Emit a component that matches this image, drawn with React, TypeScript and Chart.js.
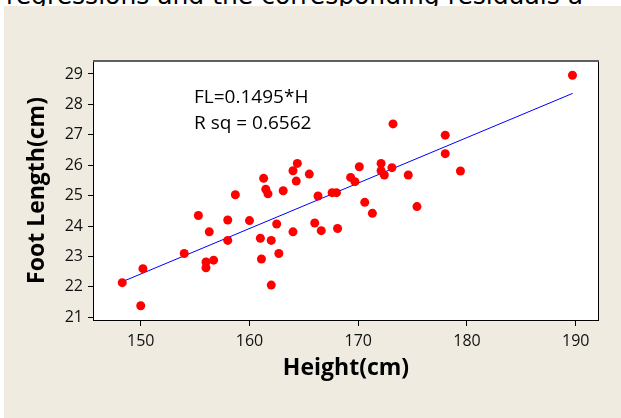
import React, { useEffect, useRef } from "react";
import { Chart, registerables } from "chart.js";

Chart.register(...registerables);

const heights = [
  148.3, 150.0, 150.2, 154.0, 155.3, 156.0, 156.0, 156.3, 156.7, 158.0,
  158.0, 158.7, 160.0, 161.0, 161.1, 161.3, 161.5, 161.7, 162.0, 162.0,
  162.5, 162.7, 163.1, 164.0, 164.0, 164.3, 164.4, 165.5, 166.0, 166.3,
  166.6, 167.6, 168.0, 168.1, 169.3, 169.7, 170.1, 170.6, 171.3, 172.1,
  172.1, 172.4, 173.2, 173.1, 174.6, 175.4, 178.0, 178.0, 179.4, 189.7,
];
const footLengths = [
  22.14, 21.38, 22.6, 23.1, 24.35, 22.82, 22.63, 23.81, 22.88, 24.2,
  23.53, 25.03, 24.18, 23.6, 22.92, 25.57, 25.21, 25.06, 23.53, 22.06,
  24.07, 23.1, 25.16, 23.81, 25.82, 25.48, 26.06, 25.71, 24.1, 24.99,
  23.85, 25.1, 25.1, 23.92, 25.6, 25.46, 25.95, 24.78, 24.42, 26.06,
  25.82, 25.68, 27.36, 25.92, 25.68, 24.64, 26.99, 26.38, 25.81, 28.96,
];
const xTickValues = [150, 160, 170, 180, 190];
const yTickValues = [21, 22, 23, 24, 25, 26, 27, 28, 29];
const xRange = [145.61, 192.14];
const yRange = [20.88, 29.46];
const slope = 0.1495;
const fitRange = [148.25, 189.72];
const annotationLines = ["FL=0.1495*H", "R sq = 0.6562"];
const annotationX = 154.9;
const annotationY = [28.24, 27.37];
const xTitle = "Height(cm)";
const yTitle = "Foot Length(cm)";
const headerText = "regressions and the corresponding residuals a";

export default function App() {
  const ref = useRef<HTMLCanvasElement>(null);

  useEffect(() => {
    const canvas = ref.current;
    if (!canvas) return;

    const boxPlugin = {
      id: "plotBox",
      beforeDraw(chart: any) {
        const { ctx, chartArea: a } = chart;
        ctx.save();
        ctx.fillStyle = "#ffffff";
        ctx.fillRect(a.left, a.top, a.right - a.left, a.bottom - a.top);
        ctx.restore();
      },
      afterDraw(chart: any) {
        const { ctx, chartArea: a, scales } = chart;
        ctx.save();
        ctx.strokeStyle = "#000000";
        ctx.lineWidth = 1;
        ctx.strokeRect(a.left + 0.5, a.top + 0.5, a.right - a.left - 1, a.bottom - a.top - 1);
        ctx.fillStyle = "#5f5f5f";
        ctx.fillRect(a.left, a.top, a.right - a.left, 2);
        ctx.fillStyle = "#000000";
        ctx.font = '19px "Open Sans"';
        ctx.textAlign = "left";
        ctx.textBaseline = "middle";
        annotationLines.forEach((t, i) => {
          ctx.fillText(t, scales.x.getPixelForValue(annotationX), scales.y.getPixelForValue(annotationY[i]));
        });
        ctx.restore();
      },
    };

    const points = heights.map((h, i) => ({ x: h, y: footLengths[i] }));
    const fitLine = fitRange.map((h) => ({ x: h, y: slope * h }));

    const chart = new Chart(canvas, {
      type: "scatter",
      data: {
        datasets: [
          {
            data: points,
            backgroundColor: "#ff0000",
            borderWidth: 0,
            pointRadius: 4.5,
            pointHoverRadius: 4.5,
          },
          {
            data: fitLine,
            showLine: true,
            borderColor: "#0000ff",
            borderWidth: 1,
            pointRadius: 0,
            fill: false,
          },
        ],
      },
      options: {
        responsive: false,
        animation: false,
        devicePixelRatio: 1,
        layout: { padding: { left: 0, top: 54, right: 22, bottom: 0 } },
        plugins: { legend: { display: false }, tooltip: { enabled: false }, title: { display: false } },
        scales: {
          x: {
            type: "linear",
            min: xRange[0],
            max: xRange[1],
            afterBuildTicks: (s: any) => {
              s.ticks = xTickValues.map((v) => ({ value: v }));
            },
            afterFit: (s: any) => {
              s.height = 97;
            },
            grid: { drawOnChartArea: false, drawTicks: true, tickLength: 5, color: "#000000" },
            border: { display: false },
            ticks: {
              color: "#111111",
              padding: 6,
              maxRotation: 0,
              font: { family: '"Open Sans"', size: 16 },
            },
            title: {
              display: true,
              text: xTitle,
              color: "#000000",
              padding: { top: 0, bottom: 36 },
              font: { family: '"Open Sans"', size: 23, weight: "bold" },
            },
          },
          y: {
            type: "linear",
            min: yRange[0],
            max: yRange[1],
            afterBuildTicks: (s: any) => {
              s.ticks = yTickValues.map((v) => ({ value: v }));
            },
            afterFit: (s: any) => {
              s.width = 89;
            },
            grid: { drawOnChartArea: false, drawTicks: true, tickLength: 5, color: "#000000" },
            border: { display: false },
            ticks: {
              color: "#111111",
              padding: 5,
              font: { family: '"Open Sans"', size: 16 },
            },
            title: {
              display: true,
              text: yTitle,
              color: "#000000",
              padding: { top: 20, bottom: 0 },
              font: { family: '"Open Sans"', size: 23, weight: "bold" },
            },
          },
        },
      },
      plugins: [boxPlugin],
    } as any);

    return () => chart.destroy();
  }, []);

  return (
    <div
      style={{
        position: "absolute",
        left: 0,
        top: 0,
        width: 621,
        height: 418,
        overflow: "hidden",
        background: "#ffffff",
      }}
    >
      <div
        style={{
          position: "absolute",
          left: 6,
          top: -17,
          fontFamily: '"DejaVu Sans"',
          fontSize: 25,
          lineHeight: "25px",
          whiteSpace: "nowrap",
          color: "#000000",
        }}
      >
        {headerText}
      </div>
      <div
        style={{
          position: "absolute",
          left: 4,
          top: 6,
          width: 617,
          height: 412,
          background: "#efebe1",
        }}
      >
        <canvas ref={ref} width={617} height={412} style={{ display: "block", width: 617, height: 412 }} />
      </div>
    </div>
  );
}
